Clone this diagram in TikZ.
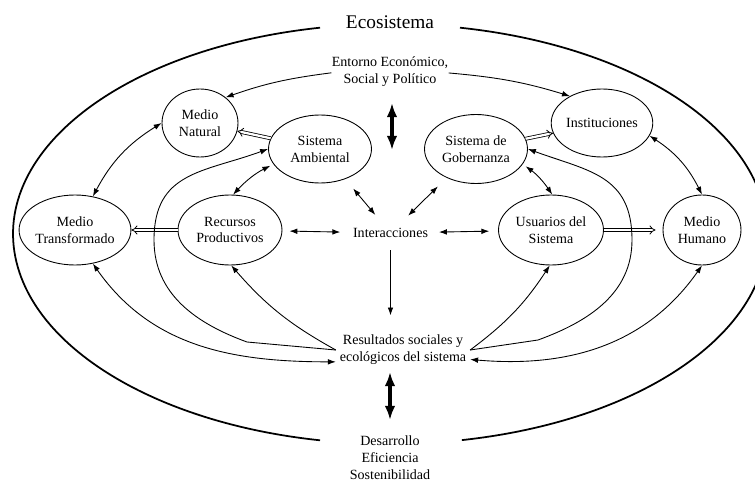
\documentclass[tikz,border=0pt]{standalone}
\usepackage{fontspec}
\setmainfont{Liberation Serif}
\usetikzlibrary{arrows.meta,shapes.geometric}

\begin{document}
\begin{tikzpicture}[x=0.02cm, y=0.02cm, line width=0.5pt,
  font=\fontsize{8}{9.6}\selectfont,
  >={Latex[length=4.5pt,width=3.2pt]},
  elip/.style={draw, ellipse, align=center, inner sep=0pt},
  txt/.style={align=center, inner sep=2pt},
  doble/.style={double, double distance=1.3pt, line width=0.45pt, -Implies},
  grueso/.style={line width=1.9pt, {Latex[length=8pt,width=6pt]}-{Latex[length=8pt,width=6pt]}}]
\useasboundingbox (0,0) rectangle (755,481);
\clip (0,0) rectangle (755,481);
\coordinate (eco) at (390,247);
\draw[line width=1pt] (eco) ++(100.7:7.54cm and 4.2cm)
  arc[start angle=100.7, end angle=259.3, x radius=7.54cm, y radius=4.2cm];
\draw[line width=1pt] (eco) ++(-79:7.54cm and 4.2cm)
  arc[start angle=-79, end angle=79.3, x radius=7.54cm, y radius=4.2cm];
\node[font=\fontsize{11}{13}\selectfont] (ecot) at (390,459) {Ecosistema};
\node[txt] (ent) at (390,409.5) {Entorno Económico,\\Social y Político};
\node[txt] (inter) at (390.5,248) {Interacciones};
\node[txt] (res) at (403,131) {Resultados sociales y\\ecológicos del sistema};
\node[txt] (des) at (390,23) {Desarrollo\\Eficiencia\\Sostenibilidad};
\node[elip, minimum width=1.52cm, minimum height=1.36cm] (nat) at (200,358) {Medio\\Natural};
\node[elip, minimum width=2.06cm, minimum height=1.36cm] (amb) at (320,332) {Sistema\\Ambiental};
\node[elip, minimum width=2.08cm, minimum height=1.40cm] (rec) at (230,251) {Recursos\\Productivos};
\node[elip, minimum width=2.12cm, minimum height=1.40cm] (mt) at (75,251) {Medio\\Transformado};
\node[elip, minimum width=2.06cm, minimum height=1.38cm] (gob) at (476,332) {Sistema de\\Gobernanza};
\node[elip, minimum width=1.90cm, minimum height=1.36cm] (inst) at (602,358) {Instituciones};
\node[elip, minimum width=2.10cm, minimum height=1.40cm] (usu) at (551,251) {Usuarios del\\Sistema};
\node[elip, minimum width=1.56cm, minimum height=1.40cm] (mh) at (702,251) {Medio\\Humano};
\coordinate (sa) at (392,378);
\coordinate (sb) at (392,331);
\coordinate (da) at (390,109);
\coordinate (db) at (390,61);
\coordinate (k1) at (247,139);
\coordinate (k2) at (154,241);
\coordinate (k3) at (538,141);
\coordinate (k4) at (632,241);
\draw[->, shorten <=-2pt] ([yshift=-1pt]ent.west) to[bend right=6] (nat.45);
\draw[->, shorten <=-2pt] ([yshift=-1pt]ent.east) to[bend left=6] (inst.140);
\draw[grueso] (sa) -- (sb);
\draw[grueso] (da) -- (db);
\draw[doble] (amb) -- (nat);
\draw[doble] (gob) -- (inst);
\draw[doble] (rec) -- (mt);
\draw[doble, shorten >=4pt] (usu) -- (mh);
\draw[<->] (nat.west) to[bend right=15] (mt.62);
\draw[<->] (inst.-15) to[bend left=15] (mh.north);
\draw[<->, shorten <=2pt] (amb.198) to[bend right=10] (rec.85);
\draw[<->, shorten <=2pt] (gob.-18) to[bend left=10] (usu.88);
\draw[<->, shorten <=7pt, shorten >=7pt] (amb) -- (inter);
\draw[<->, shorten <=7pt, shorten >=7pt] (gob) -- (inter);
\draw[<->, shorten <=4pt, shorten >=5pt] (rec) -- (inter);
\draw[<->, shorten <=4pt, shorten >=5pt] (inter) -- (usu);
\draw[->, shorten <=5pt, shorten >=9pt] (inter) -- (inter |- res.north);
\draw[->] (res.west) to[bend left=10] (rec.-88);
\draw[->] (res.west) -- (k1) to[out=160, in=-90] (k2)
  to[out=90, in=200, looseness=1.2] (amb.west);
\draw[<->] (mt.-62) to[out=-55, in=180] (res.190);
\draw[->] (res.east) to[bend right=10] (usu.-92);
\draw[->] (res.east) -- (k3) to[out=20, in=-90] (k4)
  to[out=90, in=-20, looseness=1.2] (gob.east);
\draw[<->] (mh.south) to[out=-125, in=-5] (res.-8);
\end{tikzpicture}
\end{document}
